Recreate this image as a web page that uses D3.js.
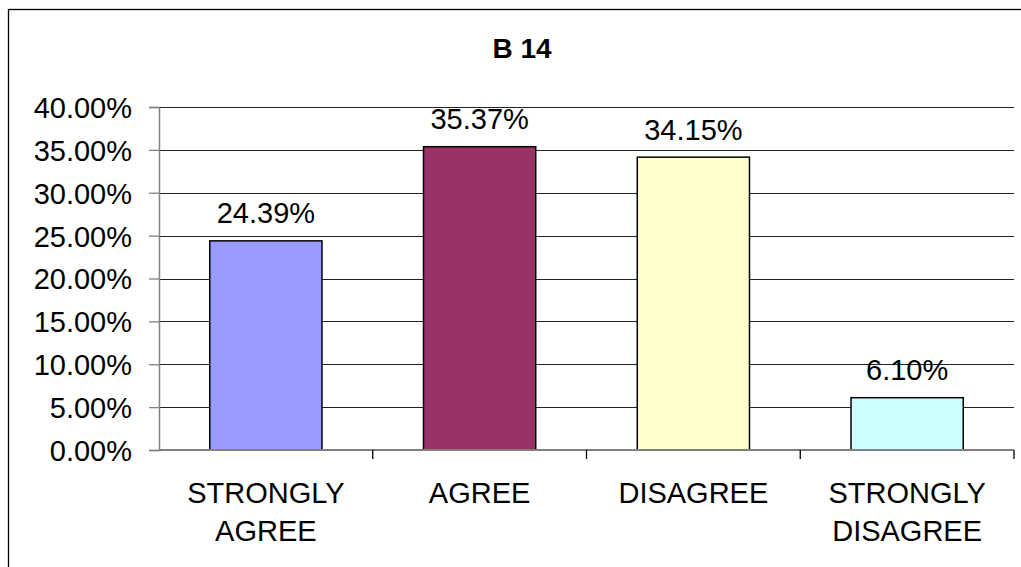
<!DOCTYPE html>
<html>
<head>
<meta charset="utf-8">
<script src="https://cdn.jsdelivr.net/npm/d3@7"></script>
<style>
  body { margin: 0; background: #fff; }
  text { font-family: "Liberation Sans", Arial, sans-serif; }
</style>
</head>
<body>
<div id="chart-area"></div>
<script>
var categories = ["STRONGLY AGREE", "AGREE", "DISAGREE", "STRONGLY DISAGREE"];
var labelLines = [["STRONGLY", "AGREE"], ["AGREE"], ["DISAGREE"], ["STRONGLY", "DISAGREE"]];
var values = [24.39, 35.37, 34.15, 6.10];
var colors = ["#9999FF", "#993366", "#FFFFCC", "#CCFFFF"];
var yTicks = [0, 5, 10, 15, 20, 25, 30, 35, 40];

var W = 1021, H = 567;
var margin = { top: 107, bottom: 117, left: 159, right: 7 };
var width  = W - margin.left - margin.right;
var height = H - margin.top - margin.bottom;

var svg = d3.select("#chart-area")
    .append("svg")
        .attr("width", W)
        .attr("height", H);

// chart frame (runs past the right and bottom edges)
svg.append("rect")
    .attr("x", 8.5).attr("y", 9.5)
    .attr("width", 1040).attr("height", 580)
    .attr("fill", "none")
    .attr("stroke", "#000")
    .attr("stroke-width", 1.3);

svg.append("text")
    .attr("x", 522)
    .attr("y", 57.5)
    .attr("text-anchor", "middle")
    .attr("font-size", "28px")
    .attr("font-weight", "bold")
    .text("B 14");

var g = svg.append("g")
    .attr("transform", "translate(" + margin.left + ", " + margin.top + ")");

var x = d3.scaleBand()
    .domain(categories)
    .range([0, width])
    .padding(0);

var y = d3.scaleLinear()
    .domain([0, 40])
    .range([height, 0]);

// gridlines
g.append("g")
    .selectAll("line")
    .data(yTicks.slice(1))
    .enter()
    .append("line")
        .attr("x1", 0)
        .attr("x2", width)
        .attr("y1", function(d) { return Math.round(y(d)) + 0.5; })
        .attr("y2", function(d) { return Math.round(y(d)) + 0.5; })
        .attr("stroke", "#222")
        .attr("stroke-width", 1);

// bars
var barW = x.bandwidth() * 0.525;
g.selectAll("rect.bar")
    .data(values)
    .enter()
    .append("rect")
        .attr("class", "bar")
        .attr("x", function(d, i) { return x(categories[i]) + (x.bandwidth() - barW) / 2; })
        .attr("y", function(d) { return y(d); })
        .attr("width", barW)
        .attr("height", function(d) { return height - y(d); })
        .attr("fill", function(d, i) { return colors[i]; })
        .attr("stroke", "#000")
        .attr("stroke-width", 1.5);

// data labels
g.selectAll("text.val")
    .data(values)
    .enter()
    .append("text")
        .attr("class", "val")
        .attr("x", function(d, i) { return x(categories[i]) + x.bandwidth() / 2; })
        .attr("y", function(d) { return y(d) - 17.5; })
        .attr("text-anchor", "middle")
        .attr("font-size", "29px")
        .attr("fill", "#000")
        .text(function(d) { return d.toFixed(2) + "%"; });

// y axis
var yAxisCall = d3.axisLeft(y)
    .tickValues(yTicks)
    .tickSize(10)
    .tickPadding(17)
    .tickFormat(function(d) { return d.toFixed(2) + "%"; });

var yAxis = g.append("g")
    .attr("class", "y-axis")
    .call(yAxisCall);
yAxis.select(".domain").attr("stroke", "#808080").attr("stroke-width", 1.5);
yAxis.selectAll(".tick line").attr("stroke", "#808080").attr("stroke-width", 1.3);
yAxis.selectAll(".tick text")
    .attr("font-size", "29px")
    .attr("fill", "#000")
    .attr("font-family", "'Liberation Sans', Arial, sans-serif")
    .attr("dy", "0.36em");

// x axis line and category boundary ticks
g.append("line")
    .attr("x1", 0).attr("x2", width)
    .attr("y1", height).attr("y2", height)
    .attr("stroke", "#808080")
    .attr("stroke-width", 2);

g.selectAll("line.xtick")
    .data(categories.slice(1).concat(["end"]))
    .enter()
    .append("line")
        .attr("class", "xtick")
        .attr("x1", function(d) { return d === "end" ? width : x(d); })
        .attr("x2", function(d) { return d === "end" ? width : x(d); })
        .attr("y1", height)
        .attr("y2", height + 9)
        .attr("stroke", "#000")
        .attr("stroke-width", 1.3);

// category labels
var catG = g.selectAll("text.cat")
    .data(categories)
    .enter()
    .append("text")
        .attr("class", "cat")
        .attr("x", function(d) { return x(d) + x.bandwidth() / 2; })
        .attr("y", height + 52.5)
        .attr("text-anchor", "middle")
        .attr("font-size", "29px")
        .attr("fill", "#000");

catG.each(function(d, i) {
    var t = d3.select(this);
    labelLines[i].forEach(function(line, j) {
        t.append("tspan")
            .attr("x", x(d) + x.bandwidth() / 2)
            .attr("dy", j === 0 ? 0 : 38.7)
            .text(line);
    });
});
</script>
</body>
</html>
